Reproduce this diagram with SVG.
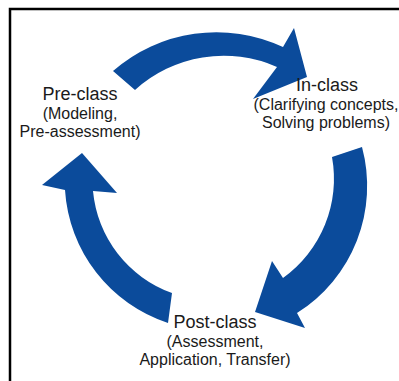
<svg xmlns="http://www.w3.org/2000/svg" width="399" height="381" viewBox="0 0 399 381">
  <style>
    .arrow { fill: #0b4b9b; }
    .title { font-family: "Liberation Sans", Arial, sans-serif; font-size: 18px; fill: #1a1a1a; text-anchor: middle; }
    .sub { font-family: "Liberation Sans", Arial, sans-serif; font-size: 16px; fill: #1a1a1a; text-anchor: middle; }
  </style>
  <rect x="0" y="0" width="399" height="381" fill="#ffffff"/>
  <rect x="10" y="9" width="420" height="420" fill="#ffffff" stroke="#000000" stroke-width="2.5"/>
  <g id="connectors">
    <path id="arrow-pre-in" class="arrow" d="M 113,71 A 157,157 0 0 1 283,47 L 294,28 L 307,77 L 253,99 L 277,67 A 132,132 0 0 0 135,90 Z"/>
    <path id="arrow-in-post" class="arrow" d="M 332,157 L 362,147 A 150,150 0 0 1 297,313 L 305,328 L 255,312 L 272,261 L 283,278 A 122,122 0 0 0 332,157 Z"/>
    <path id="arrow-post-pre" class="arrow" d="M 168,323 A 150,150 0 0 1 65,190 L 42,185 L 82,153 L 117,193 L 93,191 A 120,120 0 0 0 172,293 Z"/>
  </g>
  <g id="pre-class">
    <text class="title" x="80" y="100">Pre-class</text>
    <text class="sub" x="80" y="119">(Modeling,</text>
    <text class="sub" x="80" y="137">Pre-assessment)</text>
  </g>
  <g id="in-class">
    <text class="title" x="327" y="91">In-class</text>
    <text class="sub" x="326" y="110">(Clarifying concepts,</text>
    <text class="sub" x="326" y="128">Solving problems)</text>
  </g>
  <g id="post-class">
    <text class="title" x="215" y="328">Post-class</text>
    <text class="sub" x="215" y="347">(Assessment,</text>
    <text class="sub" x="215" y="365">Application, Transfer)</text>
  </g>
</svg>
